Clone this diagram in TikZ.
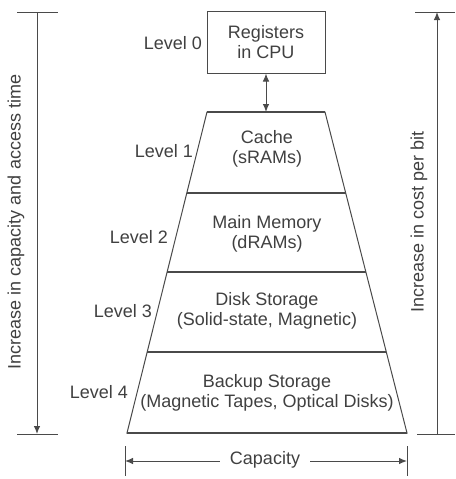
\documentclass[tikz,border=0pt]{standalone}
\usepackage{fontspec}
\setmainfont{Liberation Sans}
\usetikzlibrary{arrows.meta,calc}
\definecolor{ln}{HTML}{4A4A4A}
\definecolor{tx}{HTML}{404040}
\begin{document}
\begin{tikzpicture}[x=1pt,y=-1pt,
  every node/.style={text=tx,font=\fontsize{18}{20}\selectfont,inner sep=0pt},
  ln/.style={draw=ln,line width=1.3pt},
  thin/.style={draw=ln,line width=1pt},
  tip/.style={-{Latex[length=8pt,width=6.5pt]}},
  lvl/.style={anchor=east},
  blk/.style={align=center}]
\useasboundingbox (0,0) rectangle (455,479);
% registers box
\node[thin,minimum width=118pt,minimum height=62pt,align=center] (reg) at (266,42) {Registers\\in CPU};
\node[lvl] (l0) at (202,43) {Level 0};
% trapezoid corners
\coordinate (tl) at (207,112);
\coordinate (tr) at (325,112);
\coordinate (bl) at (127,433);
\coordinate (br) at (407,433);
\coordinate (ct) at (266,112);
\draw[thin] (tl) -- (tr) -- (br) -- (bl) -- cycle;
\draw[ln] (bl) -- (br);
\draw[ln] (tl) -- (tr);
% dividers
\draw[ln] ($(tl)!{81/321}!(bl)$) -- ($(tr)!{81/321}!(br)$);
\draw[ln] ($(tl)!{160/321}!(bl)$) -- ($(tr)!{160/321}!(br)$);
\draw[ln] ($(tl)!{240/321}!(bl)$) -- ($(tr)!{240/321}!(br)$);
% connector
\draw[thin,{Latex[length=8pt,width=6.5pt]}-{Latex[length=8pt,width=6.5pt]}] (reg.south) -- (ct);
% texts
\node[blk] (cache) at (267,149) {Cache\\(sRAMs)};
\node[blk] (main) at (267,234) {Main Memory\\(dRAMs)};
\node[blk] (disk) at (267,311) {Disk Storage\\(Solid-state, Magnetic)};
\node[blk] (backup) at (267,393) {Backup Storage\\(Magnetic Tapes, Optical Disks)};
\node[lvl] (l1) at (193,151) {Level 1};
\node[lvl] (l2) at (168,237) {Level 2};
\node[lvl] (l3) at (152,311) {Level 3};
\node[lvl] (l4) at (128,392) {Level 4};
% left arrow
\coordinate (lt) at (37,12);
\coordinate (lb) at (37,434);
\coordinate (lt1) at (17,12); \coordinate (lt2) at (58,12);
\coordinate (lb1) at (17,434); \coordinate (lb2) at (58,434);
\draw[thin] (lt1) -- (lt2);
\draw[thin] (lb1) -- (lb2);
\draw[thin,tip] (lt) -- (lb);
\node[rotate=90] (ltext) at (16,222) {Increase in capacity and access time};
% right arrow
\coordinate (rt) at (437,12);
\coordinate (rb) at (437,434);
\coordinate (rt1) at (415,12); \coordinate (rt2) at (455,12);
\coordinate (rb1) at (417,434); \coordinate (rb2) at (455,434);
\draw[thin] (rt1) -- (rt2);
\draw[thin] (rb1) -- (rb2);
\draw[thin,tip] (rb) -- (rt);
\node[rotate=90] (rtext) at (419,222) {Increase in cost per bit};
% capacity
\coordinate (ca1) at (125,446); \coordinate (ca2) at (125,476);
\coordinate (cb1) at (407,446); \coordinate (cb2) at (407,476);
\draw[thin] (ca1) -- (ca2);
\draw[thin] (cb1) -- (cb2);
\node (cap) at (265,460) {Capacity};
\coordinate (cl) at (125,461);
\coordinate (cr) at (407,461);
\draw[thin,tip] ([xshift=-10pt]cap.west |- cl) -- (cl);
\draw[thin,tip] ([xshift=10pt]cap.east |- cr) -- (cr);
\end{tikzpicture}
\end{document}
